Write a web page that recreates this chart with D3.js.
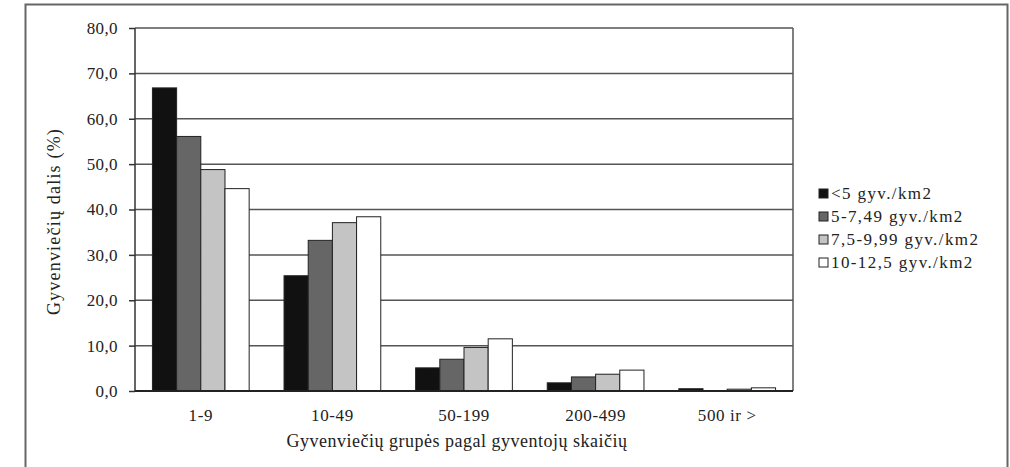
<!DOCTYPE html>
<html><head><meta charset="utf-8">
<script src="https://cdn.jsdelivr.net/npm/d3@7"></script>
<style>body{margin:0;background:#fff;}svg{display:block;font-family:"Liberation Serif","DejaVu Serif",serif;}</style>
</head><body><svg id="c" width="1010" height="467"></svg>
<script>
const categories = ["1-9","10-49","50-199","200-499","500 ir >"];
const seriesNames = ["<5 gyv./km2","5-7,49 gyv./km2","7,5-9,99 gyv./km2","10-12,5 gyv./km2"];
const s1 = [66.8, 25.4, 5.1, 1.8, 0.5];
const s2 = [56.1, 33.2, 7.0, 3.1, 0.1];
const s3 = [48.8, 37.1, 9.6, 3.7, 0.4];
const s4 = [44.6, 38.4, 11.5, 4.6, 0.7];
const yTicks = [0,10,20,30,40,50,60,70,80];
const colors = ["#111111","#666666","#c4c4c4","#ffffff"];
const series = [s1,s2,s3,s4];

const svg = d3.select("#c");
const m = {left:135, right:793, top:28, bottom:391};
// outer frame
svg.append("path").attr("d","M25.5,470 V4.5 H1007.5 V470").attr("fill","none").attr("stroke","#666").attr("stroke-width",2);

const x0 = d3.scaleBand().domain(categories).range([m.left,m.right]).paddingInner(0.265).paddingOuter(0.1325);
const x1 = d3.scaleBand().domain(d3.range(4)).range([0,x0.bandwidth()]);
const y = d3.scaleLinear().domain([0,80]).range([m.bottom,m.top]);

const fmt = d => d.toFixed(1).replace(".",",");
// gridlines
svg.append("g").selectAll("line").data(yTicks.filter(d=>d>0)).join("line")
  .attr("x1",m.left).attr("x2",m.right).attr("y1",d=>y(d)).attr("y2",d=>y(d))
  .attr("stroke","#555").attr("stroke-width",1.5);
// right border
svg.append("line").attr("x1",m.right).attr("x2",m.right).attr("y1",m.top).attr("y2",m.bottom).attr("stroke","#555").attr("stroke-width",1.5);

// bars
const g = svg.append("g");
categories.forEach((c,i)=>{
  series.forEach((s,j)=>{
    g.append("rect").attr("x",x0(c)+x1(j)).attr("width",x1.bandwidth())
      .attr("y",y(s[i])).attr("height",m.bottom-y(s[i]))
      .attr("fill",colors[j]).attr("stroke","#222").attr("stroke-width",1);
  });
});

// y axis
const ya = svg.append("g").attr("transform",`translate(${m.left},0)`)
  .call(d3.axisLeft(y).tickValues(yTicks).tickFormat(fmt).tickSize(6).tickPadding(11));
ya.select(".domain").attr("stroke","#333").attr("stroke-width",1.5).attr("d",`M0,${m.top}V${m.bottom}`);
ya.selectAll(".tick line").attr("stroke","#333").attr("stroke-width",1.5);
ya.selectAll("text").attr("font-size",17).attr("fill","#222").attr("font-family","Liberation Serif").attr("letter-spacing",0.4);

// x axis
const xa = svg.append("g").attr("transform",`translate(0,${m.bottom})`)
  .call(d3.axisBottom(x0).tickSize(0).tickPadding(18));
xa.select(".domain").attr("stroke","#222").attr("stroke-width",2).attr("d",`M${m.left},0H${m.right}`);
xa.selectAll("text").attr("font-size",17).attr("fill","#222").attr("font-family","Liberation Serif").attr("letter-spacing",0.6);

// axis titles
svg.append("text").attr("x",457).attr("y",447).attr("text-anchor","middle")
  .attr("font-size",18).attr("letter-spacing",0.5).attr("fill","#222").text("Gyvenviečių grupės pagal gyventojų skaičių");
svg.append("text").attr("transform",`translate(60,${(m.top+m.bottom)/2+12}) rotate(-90)`).attr("text-anchor","middle")
  .attr("font-size",18).attr("letter-spacing",1.2).attr("fill","#222").text("Gyvenviečių dalis (%)");

// legend
const lg = svg.append("g").attr("transform","translate(819,199)");
seriesNames.forEach((n,j)=>{
  const r = lg.append("g").attr("transform",`translate(0,${j*23})`);
  r.append("rect").attr("x",0).attr("y",-10).attr("width",9).attr("height",9).attr("fill",colors[j]).attr("stroke","#222").attr("stroke-width",1);
  r.append("text").attr("x",12).attr("y",0).attr("font-size",17).attr("letter-spacing",1.4).attr("fill","#222").text(n);
});
</script></body></html>
